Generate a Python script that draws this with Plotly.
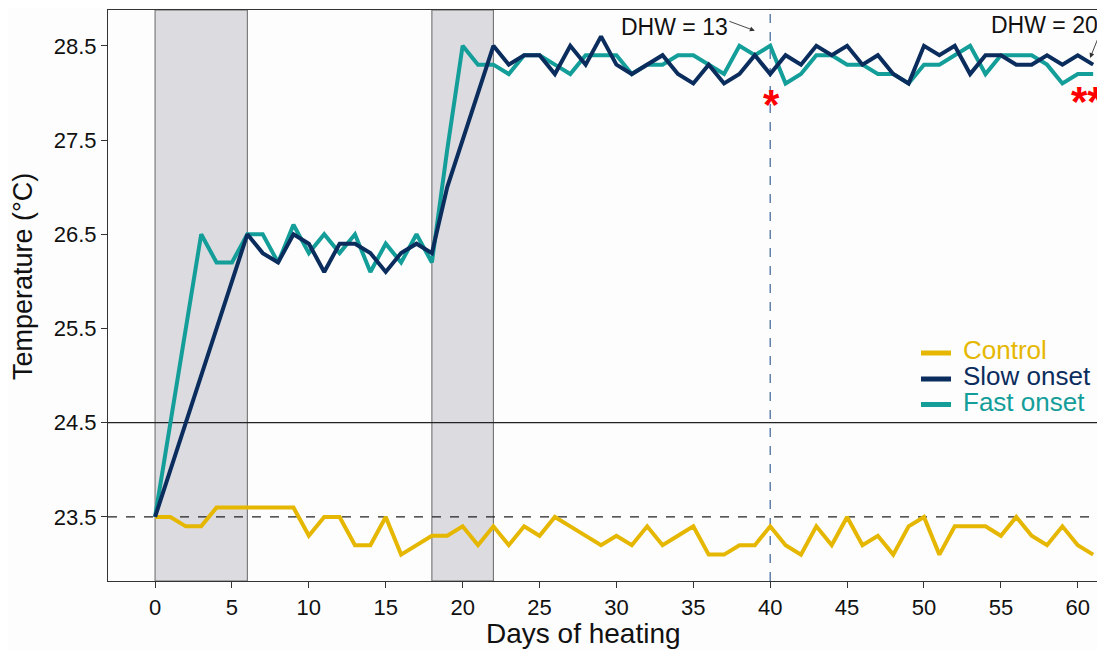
import plotly.graph_objects as go

# ---------------- data ----------------
control_days = list(range(0, 62))
control_temp = [23.5, 23.5, 23.4, 23.4, 23.6, 23.6, 23.6, 23.6, 23.6, 23.6,
                23.3, 23.5, 23.5, 23.2, 23.2, 23.5, 23.1, 23.2, 23.3, 23.3,
                23.4, 23.2, 23.4, 23.2, 23.4, 23.3, 23.5, 23.4, 23.3, 23.2,
                23.3, 23.2, 23.4, 23.2, 23.3, 23.4, 23.1, 23.1, 23.2, 23.2,
                23.4, 23.2, 23.1, 23.4, 23.2, 23.5, 23.2, 23.3, 23.1, 23.4,
                23.5, 23.1, 23.4, 23.4, 23.4, 23.3, 23.5, 23.3, 23.2, 23.4,
                23.2, 23.1]

fast_days = [0, 3] + list(range(4, 62))
fast_temp = [23.5, 26.5,
             26.2, 26.2, 26.5, 26.5, 26.2, 26.6, 26.3, 26.5, 26.3, 26.5,
             26.1, 26.4, 26.2, 26.5, 26.2, 27.4, 28.5, 28.3, 28.3, 28.2,
             28.4, 28.4, 28.3, 28.2, 28.4, 28.4, 28.4, 28.2, 28.3, 28.3,
             28.4, 28.4, 28.3, 28.2, 28.5, 28.4, 28.5, 28.1, 28.2, 28.4,
             28.4, 28.3, 28.3, 28.2, 28.2, 28.1, 28.3, 28.3, 28.4, 28.5,
             28.2, 28.4, 28.4, 28.4, 28.3, 28.1, 28.2, 28.2]

slow_days = [0] + list(range(6, 20)) + list(range(22, 62))
slow_temp = [23.5,
             26.5, 26.3, 26.2, 26.5, 26.4, 26.1, 26.4, 26.4, 26.3, 26.1,
             26.3, 26.4, 26.3, 27.0,
             28.5, 28.3, 28.4, 28.4, 28.2, 28.5, 28.3, 28.6, 28.3, 28.2,
             28.3, 28.4, 28.2, 28.1, 28.3, 28.1, 28.2, 28.4, 28.2, 28.4,
             28.3, 28.5, 28.4, 28.5, 28.3, 28.4, 28.2, 28.1, 28.5, 28.4,
             28.5, 28.2, 28.4, 28.4, 28.3, 28.3, 28.4, 28.3, 28.4, 28.3]

series_names = ["Control", "Slow onset", "Fast onset"]
series_colors = ["#E5B700", "#0B2D5E", "#149E9A"]

heating_periods = [(0, 6), (18, 22)]
control_level = 23.5
threshold_level = 24.5
dhw_day = 40
dhw_labels = ["DHW = 13", "DHW = 20"]
x_title = "Days of heating"
y_title = "Temperature (°C)"
x_ticks = list(range(0, 61, 5))
y_ticks = [23.5, 24.5, 25.5, 26.5, 27.5, 28.5]

# ---------------- layout helpers ----------------
# the page body adds an 8px offset, so the figure is shifted to compensate
OFF = 8
W, H = 1105 - OFF, 650 - OFF
ML, MR, MT = 108 - OFF, 0, 10 - OFF
MB = H - (581 - OFF)
PW, PH = W - ML - MR, H - MT - MB


def px_x(page_x):
    return (page_x - OFF - ML) / PW


def px_y(page_y):
    return (H - MB - (page_y - OFF)) / PH


FONT = "Liberation Sans, Arial, sans-serif"

# ---------------- figure ----------------
fig = go.Figure()

shapes = []
for a, b in heating_periods:
    shapes.append(dict(type="rect", xref="x", yref="paper", x0=a, x1=b, y0=0, y1=1,
                       fillcolor="#DBDBE0", line=dict(color="#666666", width=1),
                       layer="below"))
shapes.append(dict(type="line", xref="paper", yref="y", x0=0, x1=1,
                   y0=threshold_level, y1=threshold_level,
                   line=dict(color="#222222", width=1.2), layer="below"))
shapes.append(dict(type="line", xref="paper", yref="y", x0=0, x1=1,
                   y0=control_level, y1=control_level,
                   line=dict(color="#222222", width=1.3, dash="dash"), layer="below"))
shapes.append(dict(type="line", xref="x", yref="paper", x0=dhw_day, x1=dhw_day, y0=0, y1=1,
                   line=dict(color="#4A6D9E", width=1.3, dash="dash"), layer="below"))

fig.add_trace(go.Scatter(x=control_days, y=control_temp, mode="lines",
                         line=dict(color=series_colors[0], width=4), showlegend=False))
fig.add_trace(go.Scatter(x=fast_days, y=fast_temp, mode="lines",
                         line=dict(color=series_colors[2], width=4), showlegend=False))
fig.add_trace(go.Scatter(x=slow_days, y=slow_temp, mode="lines",
                         line=dict(color=series_colors[1], width=4), showlegend=False))

annotations = [
    dict(x=39.0, y=28.66, xref="x", yref="y", text="", showarrow=True,
         ax=-27, ay=-10, arrowhead=2, arrowsize=1.1, arrowwidth=0.9, arrowcolor="#333333"),
    dict(x=37.4, y=28.70, xref="x", yref="y", text=dhw_labels[0], showarrow=False,
         xanchor="right", yanchor="middle", font=dict(size=23, color="#111111")),
    dict(x=60.8, y=28.37, xref="x", yref="y", text="", showarrow=True,
         ax=12, ay=-30, arrowhead=2, arrowsize=1.1, arrowwidth=0.9, arrowcolor="#333333"),
    dict(x=61.45, y=28.72, xref="x", yref="y", text=dhw_labels[1], showarrow=False,
         xanchor="right", yanchor="middle", font=dict(size=23, color="#111111")),
    dict(x=40.1, y=27.88, xref="x", yref="y", text="<b>*</b>", showarrow=False,
         yanchor="middle", font=dict(size=42, color="#FF0000")),
    dict(x=60.66, y=27.91, xref="x", yref="y", text="<b>**</b>", showarrow=False,
         yanchor="middle", font=dict(size=42, color="#FF0000")),
    # axis titles
    dict(x=px_x(583), y=px_y(633), xref="paper", yref="paper", text=x_title,
         showarrow=False, xanchor="center", yanchor="middle",
         font=dict(size=28, color="#111111")),
    dict(x=px_x(23), y=px_y(277), xref="paper", yref="paper", text=y_title,
         showarrow=False, xanchor="center", yanchor="middle", textangle=-90,
         font=dict(size=27, color="#111111")),
]

# manual legend
legend_rows_py = [353, 379, 404.5]
for name, col, py in zip(series_names, series_colors, legend_rows_py):
    shapes.append(dict(type="rect", xref="paper", yref="paper",
                       x0=px_x(921), x1=px_x(951), y0=px_y(py + 2.5), y1=px_y(py - 2.5),
                       fillcolor=col, line=dict(width=0)))
    annotations.append(dict(x=px_x(961), y=px_y(py - 3), xref="paper", yref="paper",
                            text=name, showarrow=False, xanchor="left", yanchor="middle",
                            font=dict(size=26, color=col)))

fig.update_layout(
    width=W, height=H,
    margin=dict(l=ML, r=MR, t=MT, b=MB, autoexpand=False),
    paper_bgcolor="#FDFDFD", plot_bgcolor="#FDFDFD",
    font=dict(family=FONT, color="#111111"),
    shapes=shapes, annotations=annotations,
    showlegend=False,
    xaxis=dict(range=[-3.06, 61.77], tickvals=x_ticks, ticks="outside", ticklen=6,
               tickcolor="#333333", showgrid=False, zeroline=False, automargin=False,
               showline=True, linecolor="#333333", linewidth=1.2, mirror=True,
               tickfont=dict(size=22)),
    yaxis=dict(range=[22.82, 28.88], tickvals=y_ticks, ticktext=[f"{v:.1f}" for v in y_ticks],
               ticks="outside", ticklen=6, tickcolor="#333333", showgrid=False, zeroline=False,
               automargin=False, showline=True, linecolor="#333333", linewidth=1.2,
               tickfont=dict(size=22)),
)

fig.write_html("out.html")
